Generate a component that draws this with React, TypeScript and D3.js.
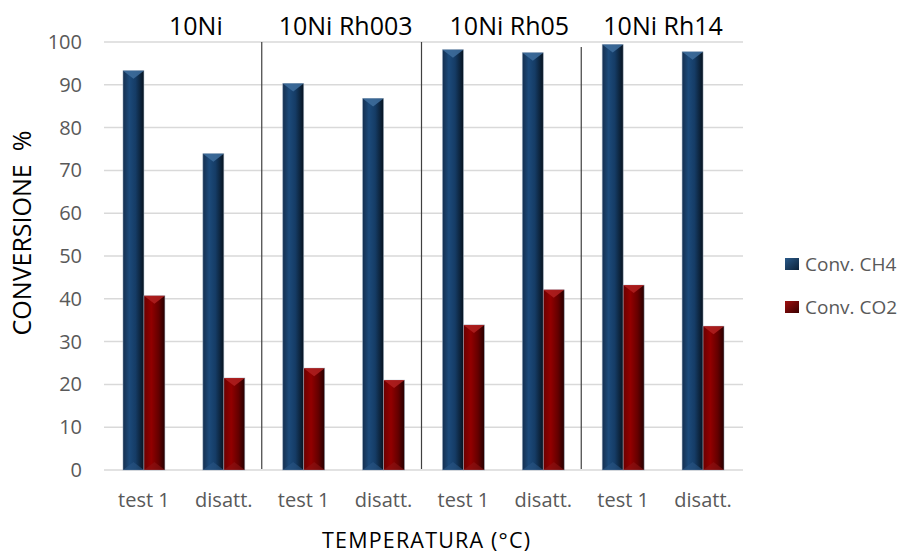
import React from "react";
import * as d3 from "d3";

const categories = ["test 1", "disatt.", "test 1", "disatt.", "test 1", "disatt.", "test 1", "disatt."];
const groups = ["10Ni", "10Ni Rh003", "10Ni Rh05", "10Ni Rh14"];
const seriesNames = ["Conv. CH4", "Conv. CO2"];
const ch4 = [93.3, 73.9, 90.3, 86.8, 98.2, 97.5, 99.4, 97.7];
const co2 = [40.7, 21.5, 23.8, 21.0, 33.9, 42.1, 43.2, 33.6];
const yTicks = [0, 10, 20, 30, 40, 50, 60, 70, 80, 90, 100];

const W = 908;
const H = 553;
const plot = { left: 104, right: 743, top: 42, bottom: 470 };
const groupLabelShift = [12, 2, 6, 0];
const separatorTop = [42, 42, 47];
const FONT = "'Open Sans', 'Noto Sans', sans-serif";

export default function App() {
  const idx = categories.map((_, i) => i);
  const x = d3.scaleBand<number>().domain(idx).range([plot.left, plot.right]).padding(0);
  const y = d3.scaleLinear().domain([0, 100]).range([plot.bottom, plot.top]);
  const groupW = x.bandwidth() * 0.525;
  const inner = d3.scaleBand<string>().domain(seriesNames).range([0, groupW]);
  const bw = inner.bandwidth();
  const series = [ch4, co2];
  const fills = ["url(#gBlue)", "url(#gRed)"];
  const bevel = ["#3f6e9e", "#b02020"];
  const bottomBevel = ["#2a5583", "#8a1414"];

  return (
    <svg width={W} height={H} style={{ position: "absolute", left: 0, top: 0, background: "#fff" }} fontFamily={FONT}>
      <defs>
        <linearGradient id="gBlue" x1="0" x2="1" y1="0" y2="0">
          <stop offset="0%" stopColor="#152f4f" />
          <stop offset="30%" stopColor="#1c4a7a" />
          <stop offset="60%" stopColor="#153c66" />
          <stop offset="100%" stopColor="#07131f" />
        </linearGradient>
        <linearGradient id="gRed" x1="0" x2="1" y1="0" y2="0">
          <stop offset="0%" stopColor="#6a0000" />
          <stop offset="35%" stopColor="#920000" />
          <stop offset="70%" stopColor="#640000" />
          <stop offset="100%" stopColor="#260000" />
        </linearGradient>
        <linearGradient id="gKeyBlue" x1="0" x2="1" y1="0" y2="1">
          <stop offset="0%" stopColor="#2a5a8a" />
          <stop offset="100%" stopColor="#0d2238" />
        </linearGradient>
        <linearGradient id="gKeyRed" x1="0" x2="1" y1="0" y2="1">
          <stop offset="0%" stopColor="#a01010" />
          <stop offset="100%" stopColor="#3a0000" />
        </linearGradient>
      </defs>

      {/* gridlines */}
      {yTicks.map((t) => (
        <line key={"g" + t} x1={plot.left} x2={plot.right} y1={y(t)} y2={y(t)} stroke="#d9d9d9" strokeWidth={1.5} />
      ))}

      {/* y tick labels */}
      {yTicks.map((t) => (
        <text key={"t" + t} x={82} y={y(t)} dy="0.35em" textAnchor="end" fontSize={20} fill="#595959">
          {t}
        </text>
      ))}

      {/* separators */}
      {[1, 2, 3].map((g, i) => {
        const sx = (x(g * 2) as number) - 2;
        return <line key={"s" + g} x1={sx} x2={sx} y1={separatorTop[i]} y2={plot.bottom - 1} stroke="#404040" strokeWidth={1.2} />;
      })}

      {/* bars */}
      {idx.map((i) =>
        series.map((s, si) => {
          const cx = (x(i) as number) + x.bandwidth() / 2 - groupW / 2 + (inner(seriesNames[si]) as number);
          const top = y(s[i]);
          const h = plot.bottom - top;
          const tri = Math.min(8, h / 2);
          return (
            <g key={`b${i}-${si}`}>
              <rect x={cx} y={top} width={bw} height={h} fill={fills[si]} stroke="#9fb0c4" strokeOpacity={0.6} strokeWidth={0.8} />
              <path d={`M${cx},${top}L${cx + bw},${top}L${cx + bw / 2},${top + tri}Z`} fill={bevel[si]} opacity={0.85} />
              <path d={`M${cx},${plot.bottom}L${cx + bw},${plot.bottom}L${cx + bw / 2},${plot.bottom - tri}Z`} fill={bottomBevel[si]} opacity={0.6} />
            </g>
          );
        })
      )}

      {/* x tick labels */}
      {idx.map((i) => (
        <text key={"x" + i} x={(x(i) as number) + x.bandwidth() / 2} y={507} textAnchor="middle" fontSize={20} fill="#595959">
          {categories[i]}
        </text>
      ))}

      {/* group labels */}
      {groups.map((g, gi) => (
        <text key={"gl" + gi} x={(x(gi * 2) as number) + x.bandwidth() + groupLabelShift[gi]} y={35} textAnchor="middle" fontSize={25} fill="#000">
          {g}
        </text>
      ))}

      {/* axis titles */}
      <text x={426} y={548} textAnchor="middle" fontSize={21.5} fill="#000" textLength={208} lengthAdjust="spacing">
        TEMPERATURA (°C)
      </text>
      <text transform={`translate(31,233) rotate(-90)`} textAnchor="middle" fontSize={25} fill="#000" style={{ whiteSpace: "pre" }}>
        {"CONVERSIONE  %"}
      </text>

      {/* legend */}
      {seriesNames.map((n, i) => (
        <g key={"l" + i} transform={`translate(785,${258 + i * 43})`}>
          <rect x={0} y={0} width={14} height={12} fill={i === 0 ? "url(#gKeyBlue)" : "url(#gKeyRed)"} />
          <text x={20} y={6} dy="0.35em" fontSize={19} fill="#595959">
            {n}
          </text>
        </g>
      ))}
    </svg>
  );
}
